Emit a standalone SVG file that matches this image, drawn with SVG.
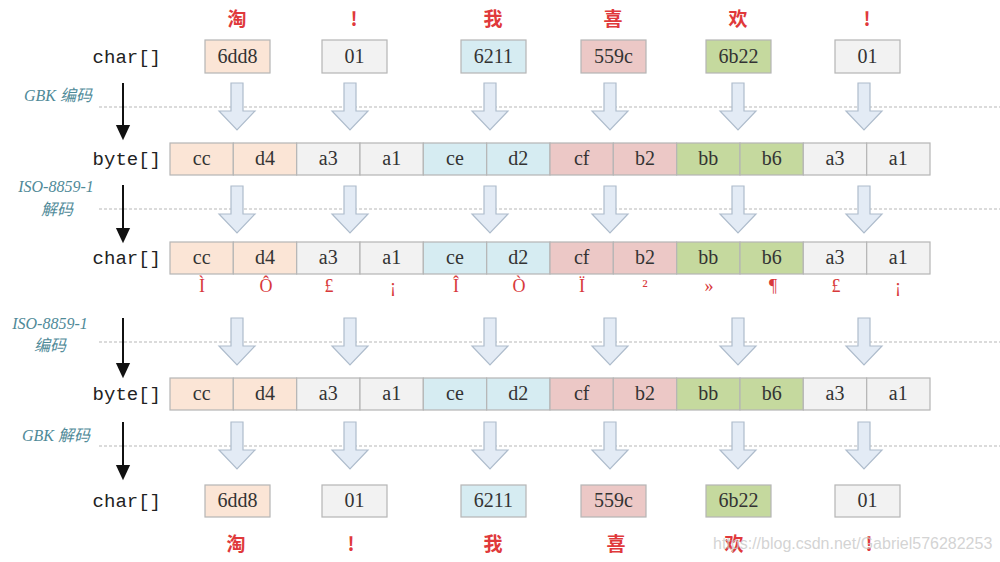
<svg xmlns="http://www.w3.org/2000/svg" xmlns:xlink="http://www.w3.org/1999/xlink" width="1000" height="562" viewBox="0 0 1000 562">
<style>
.cell{stroke:#b5b5b5;stroke-width:1.2}
.pe{fill:#fbe5d6}.gr{fill:#f2f2f2}.bl{fill:#d6ecf2}.pk{fill:#ecc8c6}.gn{fill:#c5d99e}
.t{font-family:"Liberation Serif","DejaVu Serif",serif;font-size:20px;fill:#333;text-anchor:middle}
.lbl{font-family:"Liberation Mono","DejaVu Sans Mono",monospace;font-size:19px;fill:#222;text-anchor:end}
.red{font-family:"Noto Sans CJK SC","Liberation Serif",serif;font-weight:bold;font-size:19px;fill:#e0393b;text-anchor:middle}
.sp{font-family:"Liberation Serif","DejaVu Serif",serif;font-size:18px;fill:#d8393b;text-anchor:middle}
.op{font-family:"Liberation Serif","Noto Sans CJK SC",serif;font-style:italic;font-size:16px;fill:#4f8a98;text-anchor:middle}
.dash{stroke:#b8b8b8;stroke-width:1.2;stroke-dasharray:3 2;fill:none}
.ha{fill:#e3ebf5;stroke:#aebccc;stroke-width:1.2}
.ba{stroke:#111;stroke-width:2;fill:none}
.wm{font-family:"Liberation Sans",Arial,sans-serif;font-size:16px;fill:#c8c8c8;fill-opacity:0.8}
</style>
<defs>
<path id="ha" class="ha" d="M-6,0 L6,0 L6,28 L18,28 L0,47 L-18,28 L-6,28 Z"/>
<marker id="bh2" markerUnits="userSpaceOnUse" markerWidth="16" markerHeight="18" refX="1" refY="8" orient="auto" viewBox="0 0 18 16">
<path d="M0,0 L17,8 L0,16 Z" fill="#111"/>
</marker>
</defs>
<rect width="1000" height="562" fill="#ffffff"/>

<!-- dashed separators -->
<g id="separators">
<line class="dash" x1="99" y1="107" x2="1000" y2="107"/>
<line class="dash" x1="99" y1="209" x2="1000" y2="209"/>
<line class="dash" x1="99" y1="342" x2="1000" y2="342"/>
<line class="dash" x1="99" y1="446" x2="1000" y2="446"/>
</g>

<!-- operation labels -->
<g id="op-gbk-encode"><text class="op" x="58" y="101">GBK 编码</text></g>
<g id="op-iso-decode"><text class="op" x="56" y="192">ISO-8859-1</text><text class="op" x="57" y="215">解码</text></g>
<g id="op-iso-encode"><text class="op" x="50" y="329">ISO-8859-1</text><text class="op" x="50" y="351">编码</text></g>
<g id="op-gbk-decode"><text class="op" x="56" y="441">GBK 解码</text></g>

<!-- row labels -->
<g id="label-char1"><text class="lbl" x="161" y="63">char[]</text></g>
<g id="label-byte1"><text class="lbl" x="161" y="165">byte[]</text></g>
<g id="label-char2"><text class="lbl" x="161" y="264">char[]</text></g>
<g id="label-byte2"><text class="lbl" x="161" y="400">byte[]</text></g>
<g id="label-char3"><text class="lbl" x="161" y="507">char[]</text></g>

<!-- top characters -->
<g id="chars-top">
<text class="red" x="237" y="26">淘</text>
<text class="red" x="354" y="26">!</text>
<text class="red" x="493" y="26">我</text>
<text class="red" x="613" y="26">喜</text>
<text class="red" x="738" y="26">欢</text>
<text class="red" x="867" y="26">!</text>
</g>

<!-- top char[] boxes -->
<g id="char-top">
<rect class="cell pe" x="205" y="40" width="65" height="33"/><text class="t" x="237.5" y="63">6dd8</text>
<rect class="cell gr" x="322" y="40" width="65" height="33"/><text class="t" x="354.5" y="63">01</text>
<rect class="cell bl" x="461" y="40" width="65" height="33"/><text class="t" x="493.5" y="63">6211</text>
<rect class="cell pk" x="581" y="40" width="65" height="33"/><text class="t" x="613.5" y="63">559c</text>
<rect class="cell gn" x="706" y="40" width="65" height="33"/><text class="t" x="738.5" y="63">6b22</text>
<rect class="cell gr" x="835" y="40" width="65" height="33"/><text class="t" x="867.5" y="63">01</text>
</g>

<!-- byte row 1 -->
<g id="byte-row1">
<rect class="cell pe" x="170" y="143" width="63.3" height="32"/><text class="t" x="201.7" y="165">cc</text>
<rect class="cell pe" x="233.3" y="143" width="63.3" height="32"/><text class="t" x="265" y="165">d4</text>
<rect class="cell gr" x="296.7" y="143" width="63.3" height="32"/><text class="t" x="328.3" y="165">a3</text>
<rect class="cell gr" x="360" y="143" width="63.3" height="32"/><text class="t" x="391.7" y="165">a1</text>
<rect class="cell bl" x="423.3" y="143" width="63.3" height="32"/><text class="t" x="455" y="165">ce</text>
<rect class="cell bl" x="486.7" y="143" width="63.3" height="32"/><text class="t" x="518.3" y="165">d2</text>
<rect class="cell pk" x="550" y="143" width="63.3" height="32"/><text class="t" x="581.7" y="165">cf</text>
<rect class="cell pk" x="613.3" y="143" width="63.3" height="32"/><text class="t" x="645" y="165">b2</text>
<rect class="cell gn" x="676.7" y="143" width="63.3" height="32"/><text class="t" x="708.3" y="165">bb</text>
<rect class="cell gn" x="740" y="143" width="63.3" height="32"/><text class="t" x="771.7" y="165">b6</text>
<rect class="cell gr" x="803.3" y="143" width="63.3" height="32"/><text class="t" x="835" y="165">a3</text>
<rect class="cell gr" x="866.7" y="143" width="63.3" height="32"/><text class="t" x="898.3" y="165">a1</text>
</g>

<!-- char row 2 -->
<g id="char-row2">
<rect class="cell pe" x="170" y="242" width="63.3" height="32"/><text class="t" x="201.7" y="264">cc</text>
<rect class="cell pe" x="233.3" y="242" width="63.3" height="32"/><text class="t" x="265" y="264">d4</text>
<rect class="cell gr" x="296.7" y="242" width="63.3" height="32"/><text class="t" x="328.3" y="264">a3</text>
<rect class="cell gr" x="360" y="242" width="63.3" height="32"/><text class="t" x="391.7" y="264">a1</text>
<rect class="cell bl" x="423.3" y="242" width="63.3" height="32"/><text class="t" x="455" y="264">ce</text>
<rect class="cell bl" x="486.7" y="242" width="63.3" height="32"/><text class="t" x="518.3" y="264">d2</text>
<rect class="cell pk" x="550" y="242" width="63.3" height="32"/><text class="t" x="581.7" y="264">cf</text>
<rect class="cell pk" x="613.3" y="242" width="63.3" height="32"/><text class="t" x="645" y="264">b2</text>
<rect class="cell gn" x="676.7" y="242" width="63.3" height="32"/><text class="t" x="708.3" y="264">bb</text>
<rect class="cell gn" x="740" y="242" width="63.3" height="32"/><text class="t" x="771.7" y="264">b6</text>
<rect class="cell gr" x="803.3" y="242" width="63.3" height="32"/><text class="t" x="835" y="264">a3</text>
<rect class="cell gr" x="866.7" y="242" width="63.3" height="32"/><text class="t" x="898.3" y="264">a1</text>
</g>

<!-- ISO-8859-1 decoded characters -->
<g id="iso-chars">
<text class="sp" x="202" y="292">Ì</text>
<text class="sp" x="266" y="292">Ô</text>
<text class="sp" x="329" y="292">£</text>
<text class="sp" x="393" y="292">¡</text>
<text class="sp" x="456" y="292">Î</text>
<text class="sp" x="519" y="292">Ò</text>
<text class="sp" x="582" y="292">Ï</text>
<text class="sp" x="645" y="292">²</text>
<text class="sp" x="709" y="292">»</text>
<text class="sp" x="773" y="292">¶</text>
<text class="sp" x="836" y="292">£</text>
<text class="sp" x="898" y="292">¡</text>
</g>

<!-- byte row 2 -->
<g id="byte-row2">
<rect class="cell pe" x="170" y="378" width="63.3" height="32"/><text class="t" x="201.7" y="400">cc</text>
<rect class="cell pe" x="233.3" y="378" width="63.3" height="32"/><text class="t" x="265" y="400">d4</text>
<rect class="cell gr" x="296.7" y="378" width="63.3" height="32"/><text class="t" x="328.3" y="400">a3</text>
<rect class="cell gr" x="360" y="378" width="63.3" height="32"/><text class="t" x="391.7" y="400">a1</text>
<rect class="cell bl" x="423.3" y="378" width="63.3" height="32"/><text class="t" x="455" y="400">ce</text>
<rect class="cell bl" x="486.7" y="378" width="63.3" height="32"/><text class="t" x="518.3" y="400">d2</text>
<rect class="cell pk" x="550" y="378" width="63.3" height="32"/><text class="t" x="581.7" y="400">cf</text>
<rect class="cell pk" x="613.3" y="378" width="63.3" height="32"/><text class="t" x="645" y="400">b2</text>
<rect class="cell gn" x="676.7" y="378" width="63.3" height="32"/><text class="t" x="708.3" y="400">bb</text>
<rect class="cell gn" x="740" y="378" width="63.3" height="32"/><text class="t" x="771.7" y="400">b6</text>
<rect class="cell gr" x="803.3" y="378" width="63.3" height="32"/><text class="t" x="835" y="400">a3</text>
<rect class="cell gr" x="866.7" y="378" width="63.3" height="32"/><text class="t" x="898.3" y="400">a1</text>
</g>

<!-- bottom char[] boxes -->
<g id="char-bottom">
<rect class="cell pe" x="205" y="485" width="65" height="32"/><text class="t" x="237.5" y="507">6dd8</text>
<rect class="cell gr" x="322" y="485" width="65" height="32"/><text class="t" x="354.5" y="507">01</text>
<rect class="cell bl" x="461" y="485" width="65" height="32"/><text class="t" x="493.5" y="507">6211</text>
<rect class="cell pk" x="581" y="485" width="65" height="32"/><text class="t" x="613.5" y="507">559c</text>
<rect class="cell gn" x="706" y="485" width="65" height="32"/><text class="t" x="738.5" y="507">6b22</text>
<rect class="cell gr" x="835" y="485" width="65" height="32"/><text class="t" x="867.5" y="507">01</text>
</g>

<!-- bottom characters -->
<g id="chars-bottom">
<text class="red" x="236" y="551">淘</text>
<text class="red" x="351" y="551">!</text>
<text class="red" x="493" y="551">我</text>
<text class="red" x="616" y="551">喜</text>
<text class="red" x="734" y="551">欢</text>
<text class="red" x="869" y="551">!</text>
</g>

<!-- connectors -->
<g id="connectors">
<g id="hollow-arrows">
<use xlink:href="#ha" x="237" y="83"/><use xlink:href="#ha" x="350" y="83"/><use xlink:href="#ha" x="490" y="83"/><use xlink:href="#ha" x="610" y="83"/><use xlink:href="#ha" x="738" y="83"/><use xlink:href="#ha" x="864" y="83"/>
<use xlink:href="#ha" x="237" y="186"/><use xlink:href="#ha" x="350" y="186"/><use xlink:href="#ha" x="490" y="186"/><use xlink:href="#ha" x="610" y="186"/><use xlink:href="#ha" x="738" y="186"/><use xlink:href="#ha" x="864" y="186"/>
<use xlink:href="#ha" x="237" y="318"/><use xlink:href="#ha" x="350" y="318"/><use xlink:href="#ha" x="490" y="318"/><use xlink:href="#ha" x="610" y="318"/><use xlink:href="#ha" x="738" y="318"/><use xlink:href="#ha" x="864" y="318"/>
<use xlink:href="#ha" x="237" y="422"/><use xlink:href="#ha" x="350" y="422"/><use xlink:href="#ha" x="490" y="422"/><use xlink:href="#ha" x="610" y="422"/><use xlink:href="#ha" x="738" y="422"/><use xlink:href="#ha" x="864" y="422"/>
</g>
<g id="step-arrows">
<line class="ba" x1="123" y1="83" x2="123" y2="126" marker-end="url(#bh2)"/>
<line class="ba" x1="123" y1="185" x2="123" y2="229" marker-end="url(#bh2)"/>
<line class="ba" x1="123" y1="318" x2="123" y2="364" marker-end="url(#bh2)"/>
<line class="ba" x1="123" y1="422" x2="123" y2="466" marker-end="url(#bh2)"/>
</g>
</g>

<text class="wm" x="713" y="549">https://blog.csdn.net/Gabriel576282253</text>
</svg>
